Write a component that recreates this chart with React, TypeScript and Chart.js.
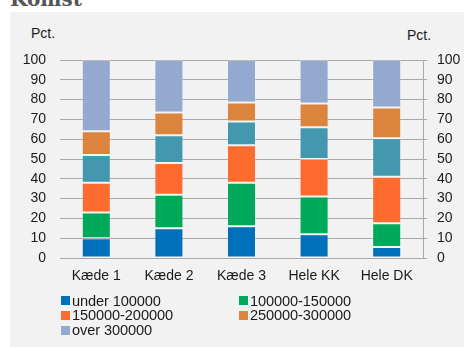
import React, { useEffect, useRef } from "react";
import { Chart, registerables } from "chart.js";

Chart.register(...registerables);

// Income groups per chain (percent of households)
const categories = ["Kæde 1", "Kæde 2", "Kæde 3", "Hele KK", "Hele DK"];
const seriesNames = [
  "under 100000",
  "100000-150000",
  "150000-200000",
  "200000-250000",
  "250000-300000",
  "over 300000",
];
const under100000 = [10, 15, 16, 12, 5.5];
const from100To150 = [13, 17, 22, 19, 12];
const from150To200 = [15, 16, 19, 19, 23.5];
const from200To250 = [14, 14, 12, 16, 19.5];
const from250To300 = [12, 11.5, 9.5, 12, 15.5];
const over300000 = [36, 26.5, 21.5, 22, 24];
const seriesColors = ["#0070bb", "#00a85a", "#fe6b2e", "#4398b0", "#db843d", "#94a9d0"];
// the 200000-250000 group has no legend entry
const legendSeries = [0, 1, 2, 4, 5];
const yTicks = [0, 10, 20, 30, 40, 50, 60, 70, 80, 90, 100];
const axisUnit = "Pct.";
const chartTitle = "Komst";

const seriesValues = [under100000, from100To150, from150To200, from200To250, from250To300, over300000];

const FONT = "'Liberation Sans', Arial, sans-serif";
const GRID = "#a9a9a9";

export default function App() {
  const canvasRef = useRef<HTMLCanvasElement | null>(null);

  useEffect(() => {
    const canvas = canvasRef.current;
    if (!canvas) return;
    const chart = new Chart(canvas, {
      type: "bar",
      data: {
        labels: categories,
        datasets: seriesValues.map((values, i) => ({
          label: seriesNames[i],
          data: values,
          backgroundColor: seriesColors[i],
          borderColor: "rgba(255,255,255,0.22)",
          borderWidth: 1,
          borderSkipped: false,
          barPercentage: 0.4,
          categoryPercentage: 1,
          yAxisID: "y",
        })),
      },
      options: {
        animation: false,
        responsive: false,
        maintainAspectRatio: false,
        layout: { padding: { left: 0, right: 0, top: 60, bottom: 59 } },
        plugins: { legend: { display: false }, tooltip: { enabled: false } },
        scales: {
          x: {
            stacked: true,
            grid: { display: false, drawTicks: false },
            border: { display: false },
            ticks: { color: "#1a1a1a", font: { family: FONT, size: 14 }, padding: 10 },
            afterFit: (s: any) => {
              s.height = 30;
            },
          },
          y: {
            stacked: true,
            position: "left",
            min: 0,
            max: 100,
            afterBuildTicks: (s: any) => {
              s.ticks = yTicks.map((v) => ({ value: v }));
            },
            grid: { color: GRID, lineWidth: 1, drawTicks: false },
            border: { display: false },
            ticks: { color: "#1a1a1a", font: { family: FONT, size: 14 }, padding: 14 },
            afterFit: (s: any) => {
              s.width = 60;
            },
          },
          y1: {
            position: "right",
            min: 0,
            max: 100,
            afterBuildTicks: (s: any) => {
              s.ticks = yTicks.map((v) => ({ value: v }));
            },
            grid: { drawOnChartArea: false, drawTicks: true, tickLength: 4, color: GRID },
            border: { display: true, color: GRID },
            ticks: { color: "#1a1a1a", font: { family: FONT, size: 14 }, padding: 10 },
            afterFit: (s: any) => {
              s.width = 41;
            },
          },
        },
      },
    });
    return () => chart.destroy();
  }, []);

  const legendItems = legendSeries.map((idx, k) => {
    const col = k % 2;
    const row = Math.floor(k / 2);
    return (
      <div
        key={seriesNames[idx]}
        style={{
          position: "absolute",
          left: col === 0 ? 61 : 239,
          top: 292 + row * 14.8,
          height: 17,
          display: "flex",
          alignItems: "center",
          whiteSpace: "nowrap",
        }}
      >
        <span style={{ display: "inline-block", width: 9, height: 9, background: seriesColors[idx], marginRight: 2 }} />
        <span style={{ font: `14.6px ${FONT}`, color: "#1a1a1a", letterSpacing: "-0.1px" }}>{seriesNames[idx]}</span>
      </div>
    );
  });

  return (
    <div style={{ position: "fixed", left: 0, top: 0, width: 464, height: 347, background: "#ffffff", overflow: "hidden" }}>
      <div
        style={{
          position: "absolute",
          left: 10,
          top: -11,
          font: `bold 20px 'DejaVu Serif', serif`,
          lineHeight: "20px",
          color: "#555555",
        }}
      >
        {chartTitle}
      </div>
      <div style={{ position: "absolute", left: 10, top: 12, width: 454, height: 335, background: "#f2f2f2" }} />
      <div style={{ position: "absolute", left: 31, top: 25, font: `14px ${FONT}`, lineHeight: "17px", color: "#1a1a1a" }}>{axisUnit}</div>
      <div style={{ position: "absolute", left: 407, top: 27, font: `14px ${FONT}`, lineHeight: "17px", color: "#1a1a1a" }}>{axisUnit}</div>
      <canvas ref={canvasRef} width={464} height={347} style={{ position: "absolute", left: 0, top: 0, width: 464, height: 347 }} />
      {legendItems}
    </div>
  );
}
